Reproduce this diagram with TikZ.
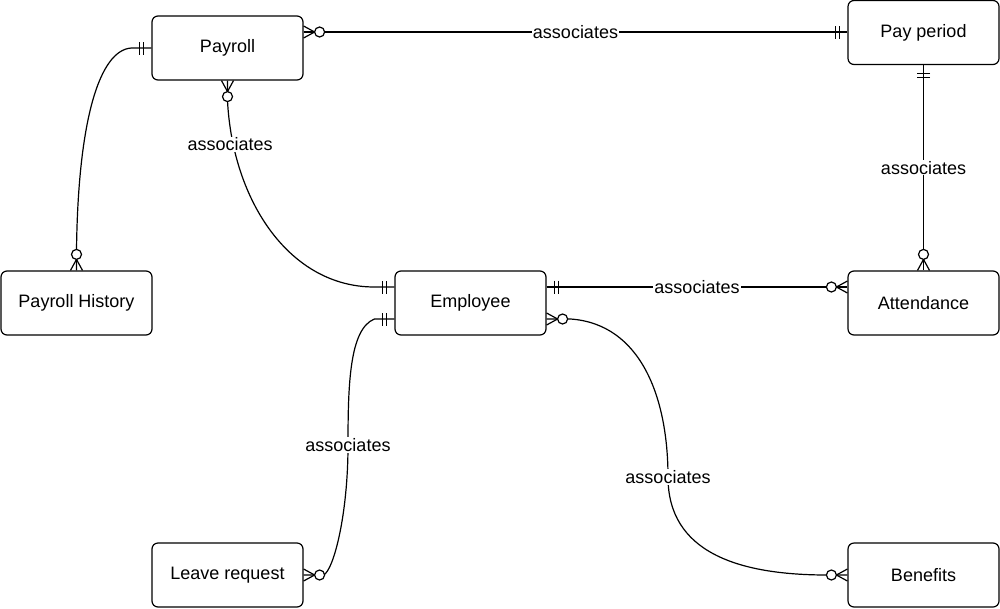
\documentclass[tikz,border=0pt]{standalone}
\usepackage{fontspec}
\setmainfont{Liberation Sans}
\usetikzlibrary{calc}
\begin{document}
\begin{tikzpicture}[x=1pt,y=-1pt,line width=1.2pt,
  entity/.style={draw,rounded corners=6pt,minimum width=151pt,minimum height=64pt,inner sep=0pt,font=\fontsize{18}{21}\selectfont},
  lbl/.style={fill=white,inner sep=1pt,font=\fontsize{18}{21}\selectfont},
  zmany/.pic={\draw (0,6)--(11,0)--(0,-6); \draw[fill=white] (16,0) circle (5);},
  omand/.pic={\draw (8,-6.5)--(8,6.5) (12,-6.5)--(12,6.5);}]
\useasboundingbox (0,0) rectangle (1000,608);
\node[entity] (pr) at (227.5,48) {Payroll};
\node[entity] (pp) at (923.5,32.5) {Pay period};
\node[entity] (ph) at (76.5,303) {Payroll History};
\node[entity] (emp) at (470.5,303) {Employee};
\node[entity] (att) at (923.5,303) {Attendance};
\node[entity] (lr) at (227.5,575) {Leave request};
\node[entity] (ben) at (923.5,575) {Benefits};
% anchors
\coordinate (prE) at ([yshift=16pt]pr.east);
\coordinate (empWu) at ([yshift=16pt]emp.west);
\coordinate (empWl) at ([yshift=-16pt]emp.west);
\coordinate (empEu) at ([yshift=16pt]emp.east);
\coordinate (empEl) at ([yshift=-16pt]emp.east);
\coordinate (attW) at ([yshift=16pt]att.west);
% connectors
\draw (prE) -- node[lbl] (l1) {associates} (prE -| pp.west);
\draw (pr.south) -- ++(0,20) .. controls +(5,100) and +(-85,0) .. ($(empWu)+(-20,0)$) node[lbl,pos=0.15,xshift=-3pt] (l2) {associates} -- (empWu);
\draw (pr.west) -- ++(-20,0) .. controls +(-32,2) and +(1.5,-130) .. ($(ph.north)+(0,-20)$) -- (ph.north);
\draw (pp.south) -- node[lbl] (l4) {associates} (att.north);
\draw (empEu) -- node[lbl] (l5) {associates} (attW);
\draw (empWl) -- ++(-20,0) .. controls +(-25,10) and +(0,-60) .. (348,445) node[lbl] (l6) {associates} .. controls +(0,70) and +(10,-5) .. ($(lr.east)+(20,0)$) -- (lr.east);
\draw (empEl) -- ++(24,0) .. controls +(70,5) and +(0,-80) .. (668,477) node[lbl] (l7) {associates} .. controls +(0,75) and +(-90,0) .. ($(ben.west)+(-20,0)$) -- (ben.west);
% markers
\pic[rotate=0] at (prE) {zmany};
\pic[rotate=180] at (prE -| pp.west) {omand};
\pic[rotate=-90] at (pr.south) {zmany};
\pic[rotate=180] at (empWu) {omand};
\pic[rotate=180] at (pr.west) {omand};
\pic[rotate=90] at (ph.north) {zmany};
\pic[rotate=-90] at (pp.south) {omand};
\pic[rotate=90] at (att.north) {zmany};
\pic[rotate=0] at (empEu) {omand};
\pic[rotate=180] at (attW) {zmany};
\pic[rotate=180] at (empWl) {omand};
\pic[rotate=0] at (lr.east) {zmany};
\pic[rotate=0] at (empEl) {zmany};
\pic[rotate=180] at (ben.west) {zmany};
\end{tikzpicture}
\end{document}
